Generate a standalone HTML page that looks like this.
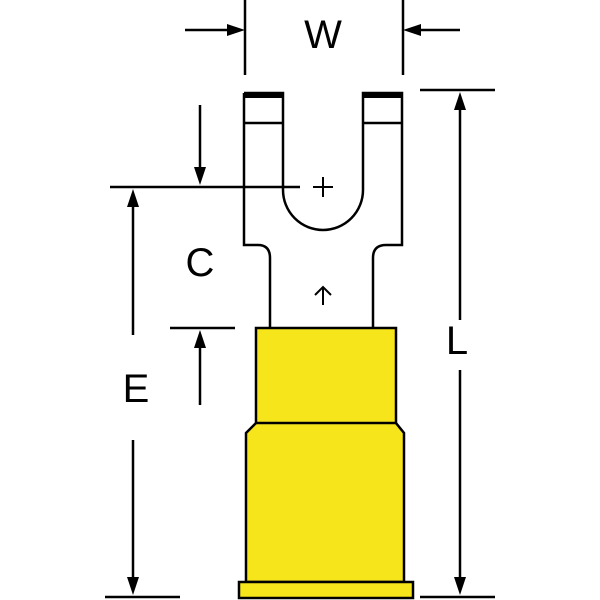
<!DOCTYPE html>
<html><head><style>body{margin:0;background:#fff}svg{display:block}</style></head><body>
<svg width="600" height="600" viewBox="0 0 600 600" xmlns="http://www.w3.org/2000/svg">
<g stroke="#000" stroke-width="2.5" fill="none">
<path d="M244,93 V245 H258 Q270,245 270,258 V328 M373,328 V258 Q373,245 386,245 H402 V93 H363 V190 A40,40 0 0 1 283,190 V93 H244" fill="#fff"/>
<line x1="244" y1="123" x2="283" y2="123"/>
<line x1="363" y1="123" x2="402" y2="123"/>
<path d="M256,328 H396 V423 L404,433 V582 H246 V433 L256,423 Z" fill="#f7e51c"/>
<line x1="256" y1="423" x2="396" y2="423"/>
<rect x="239" y="582" width="174" height="16" fill="#f7e51c"/>
<line x1="245" y1="0" x2="245" y2="75"/>
<line x1="403" y1="0" x2="403" y2="75"/>
<line x1="420" y1="90" x2="495" y2="90"/>
<line x1="420" y1="597" x2="495" y2="597"/>
<line x1="105" y1="597" x2="180" y2="597"/>
<line x1="110" y1="187" x2="300" y2="187"/>
<line x1="170" y1="328" x2="235" y2="328"/>
<path d="M313,187 h20 M323,177 v20" stroke-width="2"/>
<path d="M323,305 v-18 M315,295 l8,-8 l8,8" stroke-width="2"/>
<line x1="185" y1="30" x2="230" y2="30"/>
<line x1="460" y1="30" x2="418" y2="30"/>
<line x1="460" y1="320" x2="460" y2="105"/>
<line x1="460" y1="370" x2="460" y2="582"/>
<line x1="133" y1="335" x2="133" y2="202"/>
<line x1="133" y1="440" x2="133" y2="582"/>
<line x1="200" y1="105" x2="200" y2="170"/>
<line x1="200" y1="405" x2="200" y2="345"/>
</g>
<g fill="#000">
<path d="M245,30 l-18,-6 v12 z"/>
<path d="M403,30 l18,-6 v12 z"/>
<path d="M460,92 l-6,18 h12 z"/>
<path d="M460,595 l-6,-18 h12 z"/>
<path d="M133,189 l-6,18 h12 z"/>
<path d="M133,595 l-6,-18 h12 z"/>
<path d="M200,185 l-6,-18 h12 z"/>
<path d="M200,330 l-6,18 h12 z"/>
<rect x="245" y="93" width="37" height="5"/>
<rect x="364" y="93" width="37" height="5"/>
</g>
<g font-family="Liberation Sans, sans-serif" font-size="40" text-anchor="middle" fill="#000">
<text x="323" y="48">W</text>
<text x="200" y="276">C</text>
<text x="136" y="402">E</text>
<text x="457" y="354">L</text>
</g>
</svg>
</body></html>
